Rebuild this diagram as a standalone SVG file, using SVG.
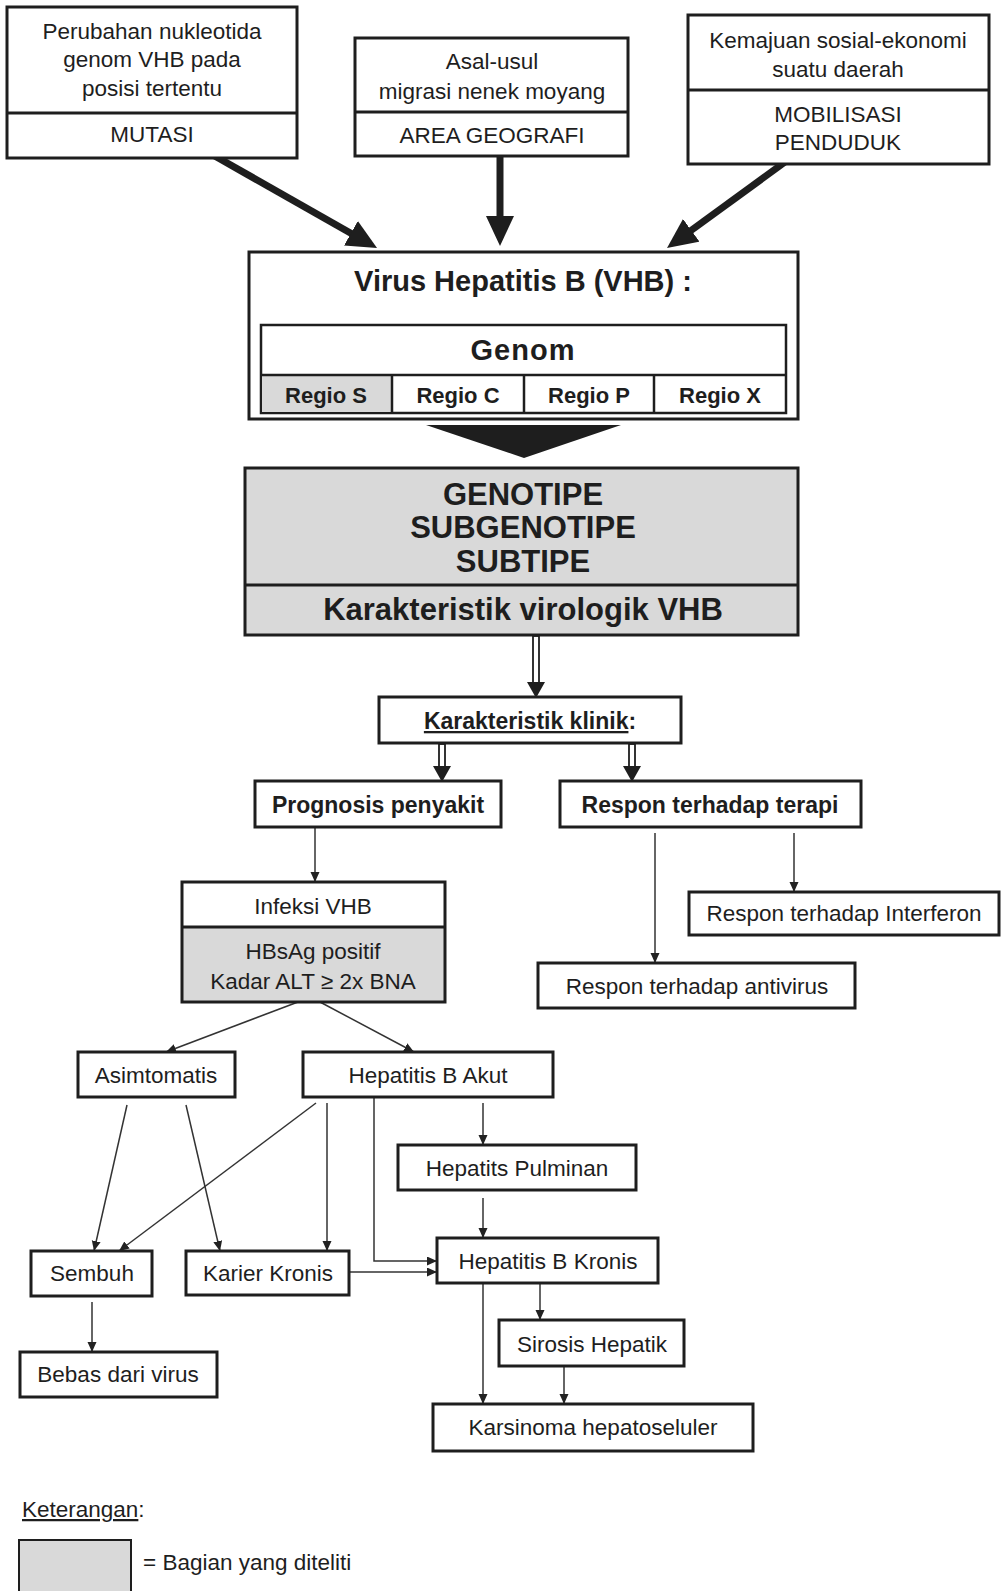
<svg xmlns="http://www.w3.org/2000/svg" width="1001" height="1591" viewBox="0 0 1001 1591">
<style>
.bg{fill:#ffffff}
.box{fill:#ffffff;stroke:#1e1e1e;stroke-width:3}
.gbox{fill:#d9d9d9;stroke:#1e1e1e;stroke-width:3}
.g{fill:#d9d9d9;stroke:none}
.div{stroke:#1e1e1e;stroke-width:3;fill:none}
.t{font-family:"Liberation Sans",Arial,sans-serif;font-size:22.5px;fill:#1e1e1e;text-anchor:middle}
.b{font-weight:bold}
.thin{stroke:#333;stroke-width:1.5;fill:none}
.thick{stroke:#1e1e1e;stroke-width:7;fill:none}
.dbl{fill:#fff;stroke:#1e1e1e;stroke-width:1.8}
.head{fill:#1e1e1e;stroke:none}
</style>
<defs>
<marker id="big" markerUnits="userSpaceOnUse" markerWidth="32" markerHeight="28" refX="8" refY="14" orient="auto"><path d="M0,0 L30,14 L0,28 z" fill="#1e1e1e"/></marker>
<marker id="sm" markerUnits="userSpaceOnUse" markerWidth="11" markerHeight="10" refX="10" refY="4.5" orient="auto"><path d="M0,0 L10,4.5 L0,9 z" fill="#222"/></marker>
</defs>
<rect class="bg" x="0" y="0" width="1001" height="1591"/>

<g id="connectors">
<path class="thick" d="M213,155 L357.9,237.2" marker-end="url(#big)"/>
<path class="thick" d="M500,156 L500,224" marker-end="url(#big)"/>
<path class="thick" d="M785,162 L684.8,235" marker-end="url(#big)"/>
<polygon class="head" points="426,425 621,425 524,458"/>
<rect class="dbl" x="533" y="636" width="6" height="48"/>
<polygon class="head" points="527,682 545,682 536,698"/>
<rect class="dbl" x="439" y="744" width="6" height="24"/>
<polygon class="head" points="433,766 451,766 442,782"/>
<rect class="dbl" x="629" y="744" width="6" height="24"/>
<polygon class="head" points="623,766 641,766 632,782"/>
<path class="thin" d="M315,828 L315,882" marker-end="url(#sm)"/>
<path class="thin" d="M655,833 L655,963" marker-end="url(#sm)"/>
<path class="thin" d="M794,833 L794,892" marker-end="url(#sm)"/>
<path class="thin" d="M298,1002 L166,1052" marker-end="url(#sm)"/>
<path class="thin" d="M320,1002 L414,1052" marker-end="url(#sm)"/>
<path class="thin" d="M127,1105 L94,1251" marker-end="url(#sm)"/>
<path class="thin" d="M186,1105 L220,1251" marker-end="url(#sm)"/>
<path class="thin" d="M316,1103 L119,1251" marker-end="url(#sm)"/>
<path class="thin" d="M327,1103 L327,1251" marker-end="url(#sm)"/>
<path class="thin" d="M374,1097 L374,1261 L437,1261" marker-end="url(#sm)"/>
<path class="thin" d="M349,1272 L437,1272" marker-end="url(#sm)"/>
<path class="thin" d="M483,1103 L483,1145" marker-end="url(#sm)"/>
<path class="thin" d="M483,1198 L483,1238" marker-end="url(#sm)"/>
<path class="thin" d="M540,1283 L540,1320" marker-end="url(#sm)"/>
<path class="thin" d="M483,1283 L483,1404" marker-end="url(#sm)"/>
<path class="thin" d="M564,1366 L564,1404" marker-end="url(#sm)"/>
<path class="thin" d="M92,1302 L92,1352" marker-end="url(#sm)"/>
</g>

<g id="mutasi">
<rect class="box" x="7" y="7" width="290" height="151"/>
<line class="div" x1="7" y1="113" x2="297" y2="113"/>
<text class="t" x="152" y="39">Perubahan nukleotida</text>
<text class="t" x="152" y="67">genom VHB pada</text>
<text class="t" x="152" y="96">posisi tertentu</text>
<text class="t" x="152" y="142">MUTASI</text>
</g>

<g id="area">
<rect class="box" x="355" y="38" width="273" height="118"/>
<line class="div" x1="355" y1="112" x2="628" y2="112"/>
<text class="t" x="492" y="69">Asal-usul</text>
<text class="t" x="492" y="99">migrasi nenek moyang</text>
<text class="t" x="492" y="143">AREA GEOGRAFI</text>
</g>

<g id="mobilisasi">
<rect class="box" x="688" y="15" width="301" height="149"/>
<line class="div" x1="688" y1="90" x2="989" y2="90"/>
<text class="t" x="838" y="48">Kemajuan sosial-ekonomi</text>
<text class="t" x="838" y="77">suatu daerah</text>
<text class="t" x="838" y="122">MOBILISASI</text>
<text class="t" x="838" y="150">PENDUDUK</text>
</g>

<g id="vhb">
<rect class="box" x="249" y="252" width="549" height="167"/>
<text class="t b" x="523" y="291" style="font-size:29px">Virus Hepatitis B (VHB) :</text>
<rect class="box" x="261" y="325" width="525" height="88" style="stroke-width:2.5"/>
<rect class="g" x="262" y="376" width="130" height="36"/>
<line class="div" x1="261" y1="375" x2="786" y2="375" style="stroke-width:2.5"/>
<line class="div" x1="392" y1="375" x2="392" y2="413" style="stroke-width:2.5"/>
<line class="div" x1="524" y1="375" x2="524" y2="413" style="stroke-width:2.5"/>
<line class="div" x1="654" y1="375" x2="654" y2="413" style="stroke-width:2.5"/>
<text class="t b" x="523" y="360" style="font-size:29px;letter-spacing:1px">Genom</text>
<text class="t b" x="326" y="403" style="font-size:22px">Regio S</text>
<text class="t b" x="458" y="403" style="font-size:22px">Regio C</text>
<text class="t b" x="589" y="403" style="font-size:22px">Regio P</text>
<text class="t b" x="720" y="403" style="font-size:22px">Regio X</text>
</g>

<g id="genotipe">
<rect class="gbox" x="245" y="468" width="553" height="167"/>
<line class="div" x1="245" y1="585" x2="798" y2="585"/>
<text class="t b" x="523" y="505" style="font-size:31px">GENOTIPE</text>
<text class="t b" x="523" y="538" style="font-size:31px">SUBGENOTIPE</text>
<text class="t b" x="523" y="572" style="font-size:31px">SUBTIPE</text>
<text class="t b" x="523" y="620" style="font-size:31px">Karakteristik virologik VHB</text>
</g>

<g id="klinik">
<rect class="box" x="379" y="697" width="302" height="46"/>
<text class="t b" x="530" y="729" style="font-size:23px"><tspan text-decoration="underline">Karakteristik klinik</tspan>:</text>
</g>

<g id="prognosis">
<rect class="box" x="255" y="781" width="246" height="46"/>
<text class="t b" x="378" y="813" style="font-size:23px">Prognosis penyakit</text>
</g>

<g id="respon">
<rect class="box" x="560" y="781" width="301" height="46"/>
<text class="t b" x="710" y="813" style="font-size:23px">Respon terhadap terapi</text>
</g>

<g id="infeksi">
<rect class="g" x="182" y="927" width="263" height="75"/>
<rect class="box" x="182" y="882" width="263" height="120" style="fill:none"/>
<line class="div" x1="182" y1="927" x2="445" y2="927"/>
<text class="t" x="313" y="914">Infeksi VHB</text>
<text class="t" x="313" y="959">HBsAg positif</text>
<text class="t" x="313" y="989">Kadar ALT ≥ 2x BNA</text>
</g>

<g id="interferon">
<rect class="box" x="689" y="892" width="310" height="43"/>
<text class="t" x="844" y="921">Respon terhadap Interferon</text>
</g>

<g id="antivirus">
<rect class="box" x="538" y="963" width="317" height="45"/>
<text class="t" x="697" y="994">Respon terhadap antivirus</text>
</g>

<g id="asimtomatis">
<rect class="box" x="78" y="1052" width="157" height="45"/>
<text class="t" x="156" y="1083">Asimtomatis</text>
</g>

<g id="akut">
<rect class="box" x="303" y="1052" width="250" height="45"/>
<text class="t" x="428" y="1083">Hepatitis B Akut</text>
</g>

<g id="pulminan">
<rect class="box" x="398" y="1145" width="238" height="45"/>
<text class="t" x="517" y="1176">Hepatits Pulminan</text>
</g>

<g id="kronis">
<rect class="box" x="437" y="1238" width="221" height="45"/>
<text class="t" x="548" y="1269">Hepatitis B Kronis</text>
</g>

<g id="sembuh">
<rect class="box" x="31" y="1251" width="121" height="45"/>
<text class="t" x="92" y="1281">Sembuh</text>
</g>

<g id="karier">
<rect class="box" x="186" y="1251" width="163" height="44"/>
<text class="t" x="268" y="1281">Karier Kronis</text>
</g>

<g id="sirosis">
<rect class="box" x="499" y="1320" width="185" height="46"/>
<text class="t" x="592" y="1352">Sirosis Hepatik</text>
</g>

<g id="karsinoma">
<rect class="box" x="433" y="1404" width="320" height="47"/>
<text class="t" x="593" y="1435">Karsinoma hepatoseluler</text>
</g>

<g id="bebas">
<rect class="box" x="20" y="1352" width="197" height="45"/>
<text class="t" x="118" y="1382">Bebas dari virus</text>
</g>

<g id="legend">
<text class="t" x="22" y="1517" style="text-anchor:start"><tspan text-decoration="underline">Keterangan</tspan>:</text>
<rect class="gbox" x="19" y="1540" width="112" height="60" style="stroke-width:2"/>
<text class="t" x="143" y="1570" style="text-anchor:start">= Bagian yang diteliti</text>
</g>
</svg>
